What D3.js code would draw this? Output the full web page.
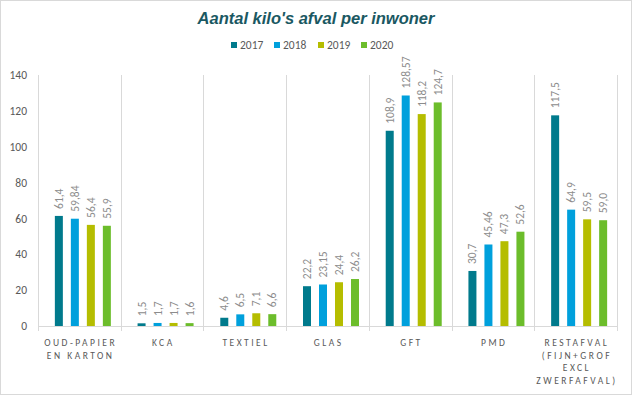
<!DOCTYPE html>
<meta charset="utf-8">
<style>
body { margin: 0; background: #fff; }
svg { font-family: Calibri, Carlito, "Liberation Sans", sans-serif; }
.title { font: italic bold 16.5px "Liberation Sans", Arial, sans-serif; fill: #1a5862; text-anchor: middle; }
.legend text { font-size: 11.5px; fill: #595959; }
.axis text { fill: #595959; }
.cat { fill: #595959; font-size: 9.5px; letter-spacing: 2.5px; text-anchor: middle; }
.lbl { fill: #8c8c8c; font-size: 11.5px; }
</style>
<svg width="632" height="395"></svg>
<script src="https://cdnjs.cloudflare.com/ajax/libs/d3/7.8.5/d3.min.js"></script>
<script>

var categories = [
  ["OUD-PAPIER", "EN KARTON"],
  ["KCA"],
  ["TEXTIEL"],
  ["GLAS"],
  ["GFT"],
  ["PMD"],
  ["RESTAFVAL", "(FIJN+GROF", "EXCL", "ZWERFAFVAL)"]
];
var years = ["2017", "2018", "2019", "2020"];
var colors = ["#007a8c", "#00a0dc", "#b5bd00", "#6cbd2b"];
var values2017 = [61.4, 1.5, 4.6, 22.2, 108.9, 30.7, 117.5];
var values2018 = [59.84, 1.7, 6.5, 23.15, 128.57, 45.46, 64.9];
var values2019 = [56.4, 1.7, 7.1, 24.4, 118.2, 47.3, 59.5];
var values2020 = [55.9, 1.6, 6.6, 26.2, 124.7, 52.6, 59.0];
var labels2017 = ["61,4", "1,5", "4,6", "22,2", "108,9", "30,7", "117,5"];
var labels2018 = ["59,84", "1,7", "6,5", "23,15", "128,57", "45,46", "64,9"];
var labels2019 = ["56,4", "1,7", "7,1", "24,4", "118,2", "47,3", "59,5"];
var labels2020 = ["55,9", "1,6", "6,6", "26,2", "124,7", "52,6", "59,0"];
var yTicks = [0, 20, 40, 60, 80, 100, 120, 140];

var series = [values2017, values2018, values2019, values2020];
var seriesLabels = [labels2017, labels2018, labels2019, labels2020];

var svg = d3.select("svg");

svg.append("rect")
    .attr("x", 0.5).attr("y", 0.5)
    .attr("width", 631).attr("height", 394)
    .attr("fill", "#fff").attr("stroke", "#d9d9d9");

var plotLeft = 38, plotRight = 617, plotTop = 75, plotBottom = 326;

var x = d3.scaleBand()
    .domain(d3.range(categories.length))
    .range([plotLeft, plotRight]);

var xs = d3.scaleBand()
    .domain(years)
    .range([-24.5, 31.5])
    .paddingInner(0.5);

var y = d3.scaleLinear()
    .domain([0, 140])
    .range([plotBottom, plotTop]);

svg.append("text")
    .attr("class", "title")
    .attr("x", 316).attr("y", 24)
    .text("Aantal kilo's afval per inwoner");

// legend
var legendX = [231, 274, 318, 361];
var legend = svg.append("g").attr("class", "legend")
  .selectAll("g")
  .data(years)
  .enter().append("g")
    .attr("transform", function(d, i) { return "translate(" + legendX[i] + ",42)"; });

legend.append("rect")
    .attr("width", 6).attr("height", 6)
    .attr("fill", function(d, i) { return colors[i]; });

legend.append("text")
    .attr("x", 9).attr("y", 7)
    .text(function(d) { return d; });

// vertical gridlines at category boundaries
var bounds = d3.range(categories.length + 1).map(function(i) { return plotLeft + i * x.bandwidth(); });

svg.append("g")
  .selectAll("line")
  .data(bounds)
  .enter().append("line")
    .attr("x1", function(d) { return Math.round(d) + 0.5; })
    .attr("x2", function(d) { return Math.round(d) + 0.5; })
    .attr("y1", plotTop)
    .attr("y2", plotBottom + 5)
    .attr("stroke", "#d9d9d9");

svg.append("line")
    .attr("x1", plotLeft).attr("x2", plotRight)
    .attr("y1", plotBottom + 0.5).attr("y2", plotBottom + 0.5)
    .attr("stroke", "#d9d9d9");

// y axis
var yAxis = svg.append("g")
    .attr("class", "axis")
    .attr("transform", "translate(" + plotLeft + ",0)")
    .call(d3.axisLeft(y).tickValues(yTicks).tickSize(0).tickPadding(11));
yAxis.select(".domain").remove();
yAxis.selectAll("text")
    .style("font-family", "Calibri, Carlito, 'Liberation Sans', sans-serif")
    .style("font-size", "11.5px");

// bars
var groups = svg.append("g")
  .selectAll("g")
  .data(series)
  .enter().append("g")
    .attr("fill", function(d, i) { return colors[i]; });

groups.selectAll("rect")
    .data(function(d, i) { return d.map(function(v, j) { return {v: v, cat: j, s: i}; }); })
  .enter().append("rect")
    .attr("x", function(d) { return x(d.cat) + x.bandwidth() / 2 + xs(years[d.s]); })
    .attr("y", function(d) { return y(d.v); })
    .attr("width", xs.bandwidth())
    .attr("height", function(d) { return y(0) - y(d.v); });

// data labels
var lblG = svg.append("g");
series.forEach(function(s, i) {
  s.forEach(function(v, j) {
    var cx = x(j) + x.bandwidth() / 2 + xs(years[i]) + xs.bandwidth() / 2;
    lblG.append("text")
        .attr("class", "lbl")
        .attr("transform", "translate(" + (cx + 4) + "," + (y(v) - 7) + ") rotate(-90)")
        .text(seriesLabels[i][j]);
  });
});

// category labels
var cat = svg.append("g")
  .selectAll("text")
  .data(categories)
  .enter().append("text")
    .attr("class", "cat")
    .attr("x", function(d, i) { return x(i) + x.bandwidth() / 2 + 1.3; })
    .attr("y", 346);

cat.selectAll("tspan")
    .data(function(d) { return d; })
  .enter().append("tspan")
    .attr("x", function() { return d3.select(this.parentNode).attr("x"); })
    .attr("dy", function(d, i) { return i === 0 ? 0 : 12.5; })
    .text(function(d) { return d; });

</script>
